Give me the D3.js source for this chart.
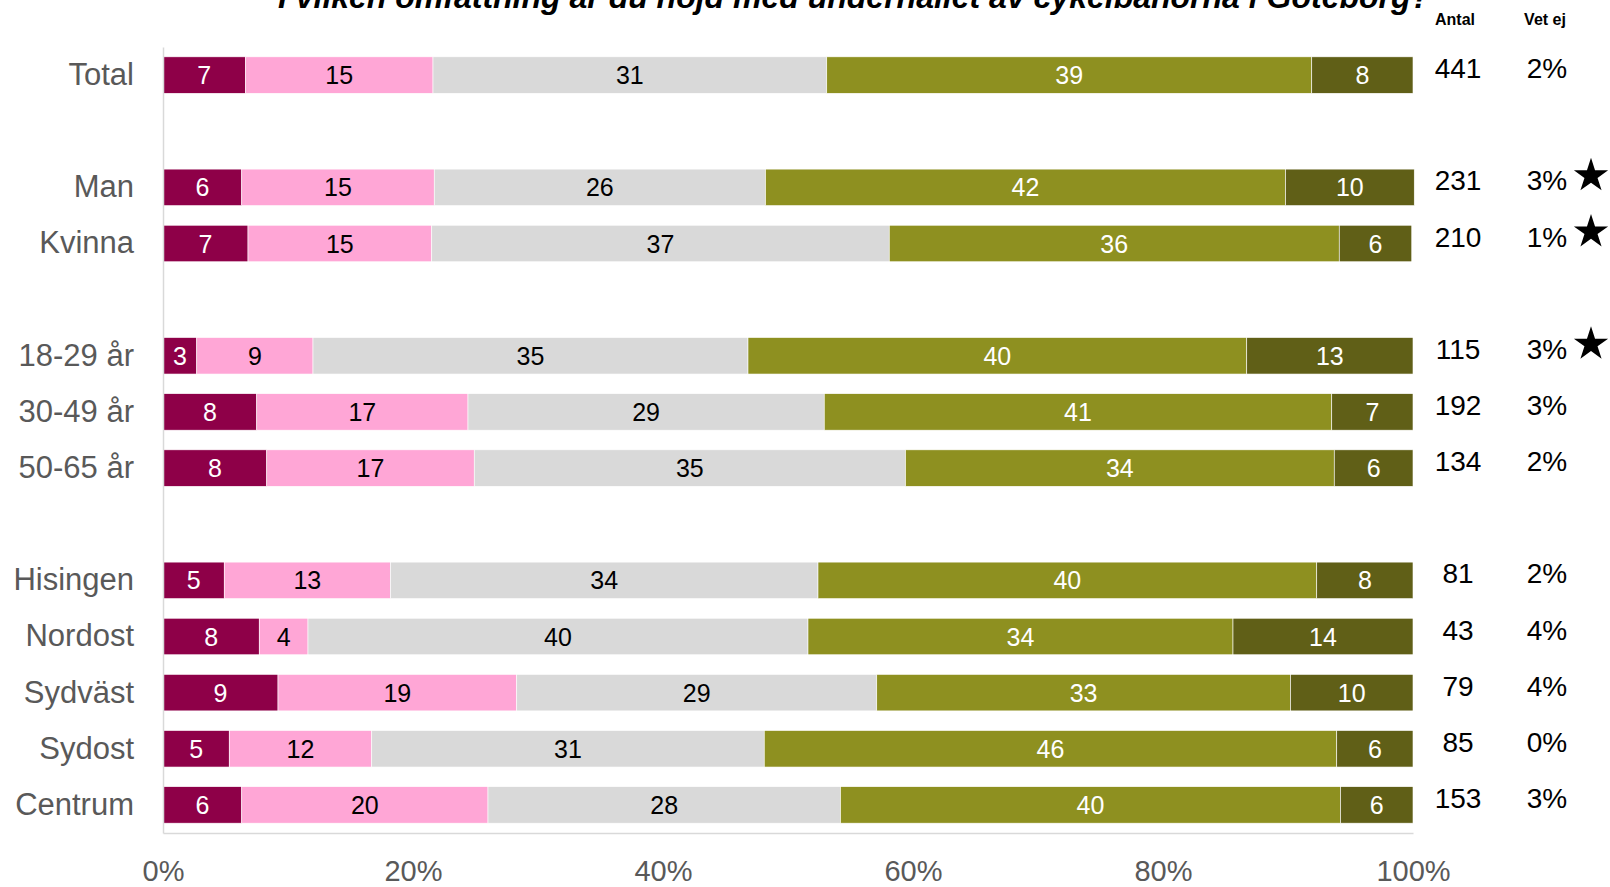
<!DOCTYPE html>
<html>
<head>
<meta charset="utf-8">
<script src="https://cdn.jsdelivr.net/npm/d3@7"></script>
<style>
  html, body { margin: 0; padding: 0; background: #fff; }
  svg { display: block; font-family: "Liberation Sans", Arial, sans-serif; }
</style>
</head>
<body>
<svg id="chart" width="1610" height="887"></svg>
<script>
// ---------- data ----------
const title = "I vilken omfattning är du nöjd med underhållet av cykelbanorna i Göteborg?";
const categories = ["Total", "Man", "Kvinna", "18-29 år", "30-49 år", "50-65 år",
                    "Hisingen", "Nordost", "Sydväst", "Sydost", "Centrum"];
const gapAfter = ["Total", "Kvinna", "50-65 år"];   // empty row after these
const seriesNames = ["Mycket missnöjd", "Ganska missnöjd", "Varken eller", "Ganska nöjd", "Mycket nöjd"];
// segment sizes (percent)
const s1 = [6.6, 6.3, 6.8, 2.7, 7.5, 8.3, 4.9, 7.7, 9.2, 5.3, 6.3];
const s2 = [15.0, 15.4, 14.7, 9.3, 16.9, 16.6, 13.3, 3.9, 19.1, 11.4, 19.7];
const s3 = [31.5, 26.5, 36.6, 34.8, 28.5, 34.5, 34.2, 40.0, 28.8, 31.4, 28.2];
const s4 = [38.8, 41.6, 36.0, 39.9, 40.6, 34.3, 39.9, 34.0, 33.1, 45.8, 40.0];
const s5 = [8.1, 10.3, 5.8, 13.3, 6.5, 6.3, 7.7, 14.4, 9.8, 6.1, 5.8];
// printed labels
const l1 = [7, 6, 7, 3, 8, 8, 5, 8, 9, 5, 6];
const l2 = [15, 15, 15, 9, 17, 17, 13, 4, 19, 12, 20];
const l3 = [31, 26, 37, 35, 29, 35, 34, 40, 29, 31, 28];
const l4 = [39, 42, 36, 40, 41, 34, 40, 34, 33, 46, 40];
const l5 = [8, 10, 6, 13, 7, 6, 8, 14, 10, 6, 6];
const antal = [441, 231, 210, 115, 192, 134, 81, 43, 79, 85, 153];
const vetEj = ["2%", "3%", "1%", "3%", "3%", "2%", "2%", "4%", "4%", "0%", "3%"];
const starred = ["Man", "Kvinna", "18-29 år"];
const xTicks = [0, 20, 40, 60, 80, 100];
const colors = ["#8E0048", "#FFA6D6", "#D9D9D9", "#8E9020", "#605F17"];
const labelColors = ["#FFFFFF", "#000000", "#000000", "#FFFFFF", "#FFFFFF"];

// ---------- build ----------
const seriesVals = [s1, s2, s3, s4, s5];
const seriesLabels = [l1, l2, l3, l4, l5];
const rows = [];
categories.forEach(c => { rows.push(c); if (gapAfter.includes(c)) rows.push("__gap_" + c); });

const svg = d3.select("#chart");
const x = d3.scaleLinear().domain([0, 100]).range([163, 1413]);
const y = d3.scaleBand().domain(rows).range([47, 833]).paddingInner(0.35).paddingOuter(0.175);

// title
svg.append("text")
  .attr("x", 854).attr("y", 8)
  .attr("text-anchor", "middle")
  .style("font-size", "32px").style("font-weight", "bold").style("font-style", "italic")
  .attr("fill", "#000")
  .text(title);

// headers
svg.append("text").attr("x", 1455).attr("y", 24.5).attr("text-anchor", "middle")
  .style("font-size", "16px").style("font-weight", "bold").text("Antal");
svg.append("text").attr("x", 1545).attr("y", 24.5).attr("text-anchor", "middle")
  .style("font-size", "16px").style("font-weight", "bold").text("Vet ej");

// stacked data
const stacked = categories.map((c, i) => {
  let acc = 0;
  return seriesVals.map((s, k) => {
    const d = { cat: c, k, x0: acc, x1: acc + s[i], label: seriesLabels[k][i] };
    acc += s[i];
    return d;
  });
}).flat();

// bars
svg.append("g").selectAll("rect").data(stacked).join("rect")
  .attr("x", d => x(d.x0))
  .attr("y", d => y(d.cat))
  .attr("width", d => x(d.x1) - x(d.x0))
  .attr("height", y.bandwidth())
  .attr("fill", d => colors[d.k])
  .attr("stroke", "#ffffff").attr("stroke-width", 0.6);

// bar labels
svg.append("g").selectAll("text").data(stacked).join("text")
  .attr("x", d => (x(d.x0) + x(d.x1)) / 2)
  .attr("y", d => y(d.cat) + y.bandwidth() / 2)
  .attr("dy", "0.36em")
  .attr("text-anchor", "middle")
  .style("font-size", "25px")
  .attr("fill", d => labelColors[d.k])
  .text(d => d.label);

// y axis (category labels + vertical line)
const yAxis = d3.axisLeft(y).tickSize(0).tickSizeOuter(0).tickPadding(29)
  .tickFormat(d => d.startsWith("__gap_") ? "" : d);
const gy = svg.append("g").attr("transform", "translate(163,0)").call(yAxis);
gy.select(".domain").attr("stroke", "#D9D9D9").attr("stroke-width", 1.5);
gy.selectAll(".tick text").style("font-size", "31px").attr("fill", "#595959")
  .style("font-family", "'Liberation Sans', Arial, sans-serif");

// x axis
const xAxis = d3.axisBottom(x).tickValues(xTicks).tickSize(0).tickSizeOuter(0)
  .tickFormat(d => d + "%");
const gx = svg.append("g").attr("transform", "translate(0,833)").call(xAxis);
gx.select(".domain").attr("stroke", "#D9D9D9").attr("stroke-width", 1.5);
gx.selectAll(".tick text").style("font-size", "29px").attr("fill", "#595959")
  .style("font-family", "'Liberation Sans', Arial, sans-serif")
  .attr("y", 38).attr("dy", "0.36em");

// right-hand columns
const right = svg.append("g");
right.selectAll("text.antal").data(categories).join("text").attr("class", "antal")
  .attr("x", 1458).attr("y", d => y(d) + y.bandwidth() / 2 - 7).attr("dy", "0.36em")
  .attr("text-anchor", "middle").style("font-size", "28px").attr("fill", "#000")
  .text((d, i) => antal[i]);
right.selectAll("text.vetej").data(categories).join("text").attr("class", "vetej")
  .attr("x", 1547).attr("y", d => y(d) + y.bandwidth() / 2 - 7).attr("dy", "0.36em")
  .attr("text-anchor", "middle").style("font-size", "28px").attr("fill", "#000")
  .text((d, i) => vetEj[i]);

// stars
const starR = 18;
const starSize = starR * starR / 0.8908130915292852;
right.selectAll("path.star").data(starred).join("path").attr("class", "star")
  .attr("d", d3.symbol(d3.symbolStar, starSize))
  .attr("transform", d => `translate(1591,${y(d) + y.bandwidth() / 2 - 7 + 10 - 0.809 * starR})`)
  .attr("fill", "#000");
</script>
</body>
</html>
